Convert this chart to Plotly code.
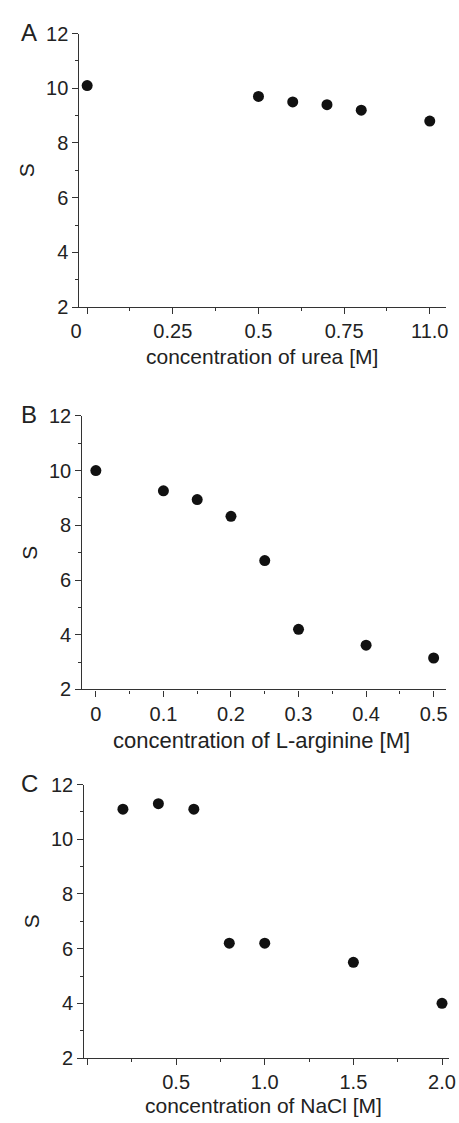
import plotly.graph_objects as go

# ---- data ----
urea_x = [0.0, 0.5, 0.6, 0.7, 0.8, 1.0]
urea_s = [10.1, 9.7, 9.5, 9.4, 9.2, 8.8]
urea_tickvals = [0, 0.25, 0.5, 0.75, 1.0]
urea_ticktext = ["0\u00a0\u00a0\u00a0\u00a0", "0.25", "0.5", "0.75", "11.0"]

arg_x = [0.0, 0.1, 0.15, 0.2, 0.25, 0.3, 0.4, 0.5]
arg_s = [10.0, 9.26, 8.94, 8.33, 6.71, 4.2, 3.62, 3.15]
arg_tickvals = [0, 0.1, 0.2, 0.3, 0.4, 0.5]
arg_ticktext = ["0", "0.1", "0.2", "0.3", "0.4", "0.5"]

nacl_x = [0.2, 0.4, 0.6, 0.8, 1.0, 1.5, 2.0]
nacl_s = [11.1, 11.3, 11.1, 6.2, 6.2, 5.5, 4.0]
nacl_tickvals = [0, 0.5, 1.0, 1.5, 2.0]
nacl_ticktext = ["", "0.5", "1.0", "1.5", "2.0"]

y_tickvals = [2, 4, 6, 8, 10, 12]
y_ticktext = ["2", "4", "6", "8", "10", "12"]

panels = [
    dict(letter="A", x=urea_x, y=urea_s, tv=urea_tickvals, tt=urea_ticktext,
         title="concentration of urea [M]", xr=[-0.0225, 1.048], minor=0.125,
         xd=[73, 453], yd=[23, 302], tsize=21, tpos=(262, 352)),
    dict(letter="B", x=arg_x, y=arg_s, tv=arg_tickvals, tt=arg_ticktext,
         title="concentration of L-arginine [M]", xr=[-0.02, 0.5186], minor=0.05,
         xd=[76, 453], yd=[413, 692], tsize=22, tpos=(262, 744)),
    dict(letter="C", x=nacl_x, y=nacl_s, tv=nacl_tickvals, tt=nacl_ticktext,
         title="concentration of NaCl [M]", xr=[-0.018, 2.04], minor=0.25,
         xd=[78, 456], yd=[789, 1068], tsize=21, tpos=(264, 1116)),
]

W, H = 459, 1123
FONT = "Arial, 'Liberation Sans', Helvetica, sans-serif"
INK = "#222222"
LINE = "#333333"

fig = go.Figure()
layout = dict(
    width=W, height=H, margin=dict(l=0, r=0, t=0, b=0),
    paper_bgcolor="white", plot_bgcolor="white", showlegend=False,
    font=dict(family=FONT, color=INK, size=20),
    annotations=[],
)

for i, p in enumerate(panels):
    n = "" if i == 0 else str(i + 1)
    fig.add_trace(go.Scatter(
        x=p["x"], y=p["y"], mode="markers",
        marker=dict(color="#111111", size=11),
        xaxis="x" + n, yaxis="y" + n, hoverinfo="skip",
    ))
    xd = [p["xd"][0] / W, p["xd"][1] / W]
    yd = [1 - p["yd"][1] / H, 1 - p["yd"][0] / H]
    layout["xaxis" + n] = dict(
        domain=xd, anchor="y" + n, range=p["xr"],
        tickvals=p["tv"], ticktext=p["tt"],
        ticks="outside", ticklen=6, tickwidth=1.3, tickcolor=LINE,
        showline=True, linecolor=LINE, linewidth=1.3,
        showgrid=False, zeroline=False, ticklabeloverflow="allow",
        minor=dict(dtick=p["minor"], tick0=0, ticks="outside", ticklen=3,
                   tickwidth=1.2, tickcolor=LINE, showgrid=False),
        tickfont=dict(size=20, family=FONT, color=INK),
        fixedrange=True,
    )
    layout["yaxis" + n] = dict(
        domain=yd, anchor="x" + n, range=[2, 12],
        tickvals=y_tickvals, ticktext=y_ticktext,
        ticks="outside", ticklen=6, tickwidth=1.3, tickcolor=LINE,
        showline=True, linecolor=LINE, linewidth=1.3,
        showgrid=False, zeroline=False,
        minor=dict(dtick=1, tick0=0, ticks="outside", ticklen=3,
                   tickwidth=1.2, tickcolor=LINE, showgrid=False),
        tickfont=dict(size=20, family=FONT, color=INK),
        title=dict(text="S", font=dict(size=21, family=FONT, color=INK),
                   standoff=5),
        fixedrange=True,
    )
    # x-axis title (placed explicitly so panel C's title may run past the page edge)
    layout["annotations"].append(dict(
        text=p["title"], xref="paper", yref="paper",
        x=p["tpos"][0] / W, y=1 - p["tpos"][1] / H,
        xanchor="center", yanchor="middle", showarrow=False,
        font=dict(size=p["tsize"], family=FONT, color=INK),
    ))
    # panel letter
    layout["annotations"].append(dict(
        text=p["letter"], xref="paper", yref="paper",
        x=21 / W, y=1 - (p["yd"][0] - 1) / H, xanchor="center", yanchor="middle",
        showarrow=False, font=dict(size=24, family=FONT, color=INK),
    ))

fig.update_layout(**layout)
fig.write_html("out.html")
